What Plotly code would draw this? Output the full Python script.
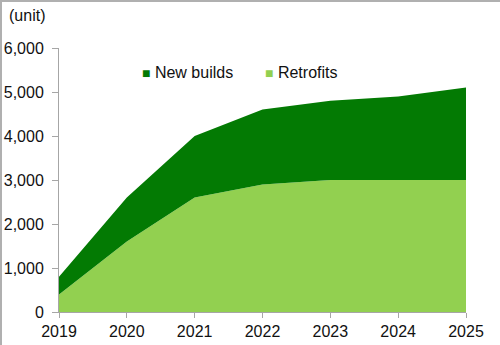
import plotly.graph_objects as go

years = [2019, 2020, 2021, 2022, 2023, 2024, 2025]
retrofits = [400, 1600, 2600, 2900, 3000, 3000, 3000]
new_builds = [400, 1000, 1400, 1700, 1800, 1900, 2100]
y_ticks = [0, 1000, 2000, 3000, 4000, 5000, 6000]

DARK = "#037A03"
LIGHT = "#92D050"
FONT = "Liberation Sans, Arial, sans-serif"

W, H = 500, 345
ML, MR, MT, MB = 59, 34, 48, 33
PW, PH = W - ML - MR, H - MT - MB


def px(x):
    return (x - ML) / PW


def py(y):
    return (H - MB - y) / PH


fig = go.Figure()
fig.add_trace(go.Scatter(x=years, y=retrofits, name="Retrofits", stackgroup="one",
                         mode="none", fillcolor=LIGHT, showlegend=False))
fig.add_trace(go.Scatter(x=years, y=new_builds, name="New builds", stackgroup="one",
                         mode="none", fillcolor=DARK, showlegend=False))


def legend_item(label, color, x):
    return dict(text=f"<span style='color:{color};font-size:14px'>■</span> {label}",
                xref="paper", yref="paper", x=px(x), y=py(72),
                xanchor="left", yanchor="middle", showarrow=False, font=dict(size=16))


fig.update_layout(
    width=W, height=H, autosize=False,
    margin=dict(l=ML, r=MR, t=MT, b=MB),
    paper_bgcolor="white", plot_bgcolor="white",
    font=dict(family=FONT, size=16, color="#111"),
    xaxis=dict(range=[2019, 2025], tickvals=years, ticktext=[str(y) for y in years],
               showgrid=False, zeroline=False, showline=True, linecolor="#A6A6A6",
               ticks="outside", ticklen=5, tickcolor="#A6A6A6", automargin=False),
    yaxis=dict(range=[0, 6000], tickvals=y_ticks, tickformat=",d",
               showgrid=False, zeroline=False, showline=True, linecolor="#A6A6A6",
               ticks="outside", ticklen=6, tickcolor="#A6A6A6", ticklabelstandoff=5,
               automargin=False),
    annotations=[
        dict(text="(unit)", xref="paper", yref="paper", x=px(7), y=py(15),
             xanchor="left", yanchor="middle", showarrow=False, font=dict(size=16)),
        legend_item("New builds", DARK, 140),
        legend_item("Retrofits", LIGHT, 263),
    ],
    shapes=[
        dict(type="line", xref="paper", yref="paper", x0=px(0), x1=px(W),
             y0=py(1), y1=py(1), line=dict(color="#B0B0B0", width=2)),
        dict(type="line", xref="paper", yref="paper", x0=px(1), x1=px(1),
             y0=py(H), y1=py(0), line=dict(color="#B0B0B0", width=2)),
    ],
)

fig.write_html("out.html", config={"responsive": False})
